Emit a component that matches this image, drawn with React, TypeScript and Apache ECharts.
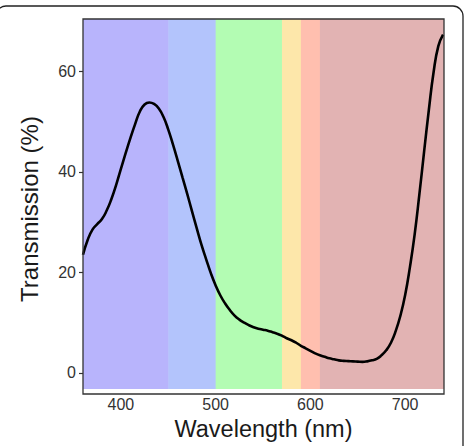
import React, { useEffect, useRef } from "react";
import * as echarts from "echarts";

// Transmission spectrum, sampled every 5 nm (wavelength in nm, transmission in %)
const wavelengths = [
  360, 365, 370, 375, 380, 385, 390, 395, 400, 405, 410, 415, 420, 425, 430,
  435, 440, 445, 450, 455, 460, 465, 470, 475, 480, 485, 490, 495, 500, 505,
  510, 515, 520, 525, 530, 535, 540, 545, 550, 555, 560, 565, 570, 575, 580,
  585, 590, 595, 600, 605, 610, 615, 620, 625, 630, 635, 640, 645, 650, 655,
  660, 665, 670, 675, 680, 685, 690, 695, 700, 705, 710, 715, 720, 725, 730,
  735, 740,
];
const transmission = [
  23.5, 26.5, 28.5, 29.6, 30.6, 32.3, 34.6, 37.4, 40.6, 43.7, 46.7, 49.5, 52.0,
  53.4, 53.8, 53.5, 52.6, 50.9, 48.4, 45.4, 42.2, 38.9, 35.6, 32.2, 28.8, 25.5,
  22.6, 19.8, 17.4, 15.4, 13.8, 12.5, 11.4, 10.6, 10.0, 9.5, 9.1, 8.8, 8.6, 8.4,
  8.1, 7.8, 7.4, 6.9, 6.5, 6.0, 5.4, 4.9, 4.4, 3.9, 3.5, 3.2, 2.9, 2.7, 2.5,
  2.4, 2.35, 2.3, 2.25, 2.2, 2.3, 2.5, 2.8, 3.5, 4.5, 6.0, 8.3, 11.4, 15.5,
  21.0, 27.5, 35.5, 44.0, 52.3, 59.8, 65.0, 67.3,
];

// Visible-spectrum colour bands
const bandStarts = [360, 450, 500, 570, 590, 610];
const bandEnds = [450, 500, 570, 590, 610, 741];
const bandColors = ["#B8B4FC", "#B3C4FC", "#B3FCB3", "#FDE7AA", "#FFBFAF", "#E2B3B3"];

const xTicks = [400, 500, 600, 700];
const yTicks = [0, 20, 40, 60];

const FONT = "Liberation Sans, Arial, Helvetica, sans-serif";

export default function App() {
  const ref = useRef<HTMLDivElement>(null);

  useEffect(() => {
    document.body.style.margin = "0";
    if (!ref.current) return;
    const chart = echarts.init(ref.current, undefined, { renderer: "svg" });

    const gridLeft = 83;
    const gridTop = 19;
    const gridRight = 21;
    const gridBottom = 52;
    const W = 465;
    const H = 446;

    chart.setOption({
      animation: false,
      backgroundColor: "#ffffff",
      grid: {
        left: gridLeft,
        top: gridTop,
        right: gridRight,
        bottom: gridBottom,
        containLabel: false,
      },
      xAxis: {
        type: "value",
        min: 360,
        max: 741,
        interval: 100,
        name: "Wavelength (nm)",
        nameLocation: "middle",
        nameGap: 28,
        nameTextStyle: { fontFamily: FONT, fontSize: 23.5, color: "#1a1a1a" },
        axisLine: { show: false },
        axisTick: {
          show: true,
          length: 4,
          lineStyle: { color: "#333", width: 1.2 },
          customValues: xTicks,
        },
        axisLabel: {
          fontFamily: FONT,
          fontSize: 16,
          color: "#333",
          margin: 7,
          customValues: xTicks,
        },
        splitLine: { show: false },
      },
      yAxis: {
        type: "value",
        min: -3.2,
        max: 70.4,
        name: "Transmission (%)",
        nameLocation: "middle",
        nameGap: 42,
        nameTextStyle: {
          fontFamily: FONT,
          fontSize: 24,
          color: "#1a1a1a",
          // nudges the rotated title a little further down the axis
          padding: [0, 10, 0, 0],
        },
        axisLine: { show: false },
        axisTick: {
          show: true,
          length: 4,
          lineStyle: { color: "#333", width: 1.2 },
          customValues: yTicks,
        },
        axisLabel: {
          fontFamily: FONT,
          fontSize: 16,
          color: "#333",
          margin: 7,
          customValues: yTicks,
        },
        splitLine: { show: false },
      },
      series: [
        {
          type: "line",
          data: wavelengths.map((w, i) => [w, transmission[i]]),
          smooth: 0.5,
          showSymbol: false,
          lineStyle: { color: "#000000", width: 2.6 },
          z: 3,
          markArea: {
            silent: true,
            // each band slightly overlaps the next so no seam shows between them
            data: bandStarts.map((s, i) => [
              { xAxis: s, itemStyle: { color: bandColors[i], opacity: 1 } },
              { xAxis: Math.min(bandEnds[i] + 0.6, 741) },
            ]),
          },
        },
      ],
      graphic: [
        {
          type: "rect",
          z: 100,
          silent: true,
          shape: {
            x: gridLeft,
            y: gridTop,
            width: W - gridLeft - gridRight,
            height: H - gridTop - gridBottom,
          },
          style: { fill: "none", stroke: "#333333", lineWidth: 1.3 },
        },
        {
          type: "rect",
          z: 100,
          silent: true,
          shape: { x: -4, y: 6, width: 467, height: 460, r: 10 },
          style: { fill: "none", stroke: "#222222", lineWidth: 1.3 },
        },
      ],
    });

    return () => chart.dispose();
  }, []);

  return <div ref={ref} style={{ width: 465, height: 446 }} />;
}
